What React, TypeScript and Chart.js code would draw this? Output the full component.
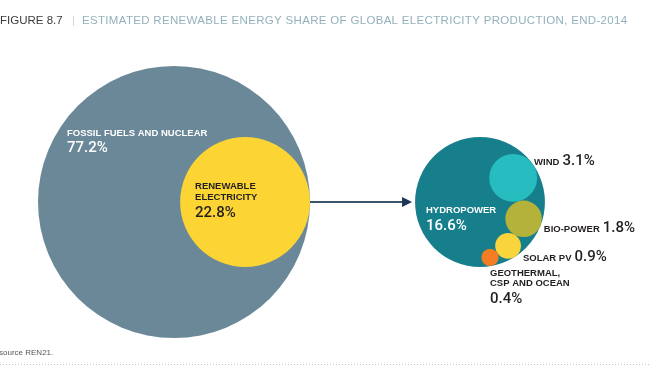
import { useEffect, useRef } from "react";
import { Chart, registerables } from "chart.js";

Chart.register(...registerables);

// ---- data ----
const globalCategories = ["FOSSIL FUELS AND NUCLEAR", "RENEWABLE ELECTRICITY"];
const globalShares = [77.2, 22.8];
const renewableCategories = ["HYDROPOWER", "WIND", "BIO-POWER", "SOLAR PV", "GEOTHERMAL, CSP AND OCEAN"];
const renewableShares = [16.6, 3.1, 1.8, 0.9, 0.4];
const titleNumber = "FIGURE 8.7";
const titleText = "ESTIMATED RENEWABLE ENERGY SHARE OF GLOBAL ELECTRICITY PRODUCTION, END-2014";
const sourceText = "source REN21.";

// ---- layout / style ----
const W = 650;
const H = 369;
const LEFT_CX = 174;
const CY = 202;
const RIGHT_CX = 480;
const R_FULL = 136; // radius (px) of a 100% circle
const FIRST_ANGLE = -36; // degrees, position of first small bubble inside the hydro circle
const FONT = "'Liberation Sans', Arial, Helvetica, sans-serif";
const NUM_FONT = "Roboto, 'Liberation Sans', Arial, sans-serif";
const COLORS = {
  fossil: "#6a8898",
  renewable: "#fcd534",
  hydro: "#167f8b",
  wind: "#26bcc0",
  bio: "#b4b23a",
  solar: "#f9d43a",
  geo: "#f47c22",
};
const subColors = [COLORS.wind, COLORS.bio, COLORS.solar, COLORS.geo];

const radiusFor = (share: number) => R_FULL * Math.sqrt(share / 100);
const pct = (v: number) => v.toFixed(1) + "%";

function buildPoints() {
  const total = globalShares[0] + globalShares[1];
  const bigR = radiusFor(total);
  const renR = radiusFor(globalShares[1]);
  const pts: { x: number; y: number; r: number }[] = [];
  pts.push({ x: LEFT_CX, y: CY, r: bigR });
  pts.push({ x: LEFT_CX + bigR - renR, y: CY, r: renR });
  const renewTotal = renewableShares.reduce((a, b) => a + b, 0);
  const hydroR = radiusFor(renewTotal);
  pts.push({ x: RIGHT_CX, y: CY, r: hydroR });
  // small bubbles: internally tangent to hydro circle and to each other
  let angle = (FIRST_ANGLE * Math.PI) / 180;
  let prevD = 0;
  let prevR = 0;
  renewableShares.slice(1).forEach((v, i) => {
    const r = radiusFor(v);
    const d = hydroR - r;
    if (i > 0) {
      const s = r + prevR;
      const c = (d * d + prevD * prevD - s * s) / (2 * d * prevD);
      angle += Math.acos(Math.max(-1, Math.min(1, c)));
    }
    pts.push({ x: RIGHT_CX + d * Math.cos(angle), y: CY + d * Math.sin(angle), r });
    prevD = d;
    prevR = r;
  });
  return pts;
}

const overlay = {
  id: "overlay",
  afterDatasetsDraw(chart: any) {
    const ctx: CanvasRenderingContext2D = chart.ctx;
    const els = chart.getDatasetMeta(0).data;
    const P = els.map((e: any, i: number) => ({ x: e.x, y: e.y, r: chart.data.datasets[0].data[i].r }));
    const bold = (s: number) => `bold ${s}px ${FONT}`;
    const reg = (s: number) => `${s}px ${FONT}`;
    const num = (s: number) => `500 ${s}px ${NUM_FONT}`;
    ctx.save();

    // title
    ctx.textBaseline = "middle";
    ctx.textAlign = "left";
    ctx.font = reg(11.5);
    ctx.fillStyle = "#3b3b3b";
    ctx.fillText(titleNumber, 0, 21);
    ctx.fillStyle = "#d0d6d8";
    ctx.fillText("|", 72, 21);
    ctx.fillStyle = "#93b1bb";
    (ctx as any).letterSpacing = "0.32px";
    ctx.fillText(titleText, 82, 21);
    (ctx as any).letterSpacing = "0px";

    // arrow
    const ax0 = P[1].x + P[1].r;
    const ax1 = P[2].x - P[2].r - 3;
    ctx.strokeStyle = "#3b566d";
    ctx.lineWidth = 2;
    ctx.beginPath();
    ctx.moveTo(ax0, CY);
    ctx.lineTo(ax1 - 6, CY);
    ctx.stroke();
    ctx.fillStyle = "#1d3557";
    ctx.beginPath();
    ctx.moveTo(ax1, CY);
    ctx.lineTo(ax1 - 10, CY - 5);
    ctx.lineTo(ax1 - 10, CY + 5);
    ctx.closePath();
    ctx.fill();

    // fossil label
    const big = P[0];
    ctx.fillStyle = "#ffffff";
    ctx.font = bold(9.5);
    ctx.fillText(globalCategories[0], big.x - 107, big.y - 69);
    ctx.font = num(15);
    ctx.fillText(pct(globalShares[0]), big.x - 107, big.y - 54);

    // renewable label
    const ren = P[1];
    ctx.fillStyle = "#231f20";
    ctx.font = bold(9.5);
    const renWords = globalCategories[1].split(" ");
    ctx.fillText(renWords[0], ren.x - 50, ren.y - 16);
    ctx.fillText(renWords[1], ren.x - 50, ren.y - 5);
    ctx.font = num(15);
    ctx.fillText(pct(globalShares[1]), ren.x - 50, ren.y + 11);

    // hydro label
    const hy = P[2];
    ctx.fillStyle = "#ffffff";
    ctx.font = bold(9.5);
    ctx.fillText(renewableCategories[0], hy.x - 54, hy.y + 8);
    ctx.font = num(15);
    ctx.fillText(pct(renewableShares[0]), hy.x - 54, hy.y + 24);

    // inline labels: category + value on one baseline
    const inline = (label: string, value: number, x: number, yc: number) => {
      ctx.fillStyle = "#231f20";
      ctx.textBaseline = "alphabetic";
      const base = yc + 5;
      ctx.font = bold(9.5);
      ctx.fillText(label, x, base);
      const w = ctx.measureText(label).width;
      ctx.font = num(15);
      ctx.fillText(pct(value), x + w + 3, base);
      ctx.textBaseline = "middle";
    };
    const wind = P[3];
    inline(renewableCategories[1], renewableShares[1], wind.x + wind.r - 3, wind.y - 18);
    const bio = P[4];
    inline(renewableCategories[2], renewableShares[2], bio.x + bio.r + 2, bio.y + 8.5);
    const sol = P[5];
    inline(renewableCategories[3], renewableShares[3], sol.x + sol.r + 2, sol.y + 10.5);

    // geothermal label
    const geo = P[6];
    ctx.fillStyle = "#231f20";
    ctx.font = bold(9.5);
    const geoParts = renewableCategories[4].split(", ");
    ctx.fillText(geoParts[0] + ",", geo.x, geo.y + 16);
    ctx.fillText(geoParts[1], geo.x, geo.y + 26);
    ctx.font = num(15);
    ctx.fillText(pct(renewableShares[4]), geo.x, geo.y + 42);

    // source and dotted rule
    ctx.font = reg(8);
    ctx.fillStyle = "#555555";
    ctx.fillText(sourceText, -1, 353);
    ctx.strokeStyle = "#c4c4c4";
    ctx.lineWidth = 1;
    ctx.setLineDash([1, 2]);
    ctx.beginPath();
    ctx.moveTo(0, 364.5);
    ctx.lineTo(W, 364.5);
    ctx.stroke();
    ctx.restore();
  },
};

export default function App() {
  const ref = useRef<HTMLCanvasElement | null>(null);
  useEffect(() => {
    document.body.style.margin = "0";
    const canvas = ref.current;
    if (!canvas) return;
    const points = buildPoints();
    const chart = new Chart(canvas, {
      type: "bubble",
      data: {
        labels: [...globalCategories, ...renewableCategories],
        datasets: [
          {
            data: points,
            backgroundColor: [COLORS.fossil, COLORS.renewable, COLORS.hydro, ...subColors],
            borderWidth: 0,
            hoverBorderWidth: 0,
            clip: false as any,
          },
        ],
      },
      options: {
        animation: false,
        responsive: false,
        maintainAspectRatio: false,
        devicePixelRatio: 1,
        layout: { padding: 0, autoPadding: false },
        events: [],
        plugins: { legend: { display: false }, tooltip: { enabled: false }, title: { display: false } },
        scales: {
          x: { type: "linear", min: 0, max: W, display: false },
          y: { type: "linear", min: 0, max: H, reverse: true, display: false },
        },
      },
      plugins: [overlay],
    });
    return () => chart.destroy();
  }, []);
  return <canvas ref={ref} width={W} height={H} style={{ display: "block", width: W, height: H }} />;
}
